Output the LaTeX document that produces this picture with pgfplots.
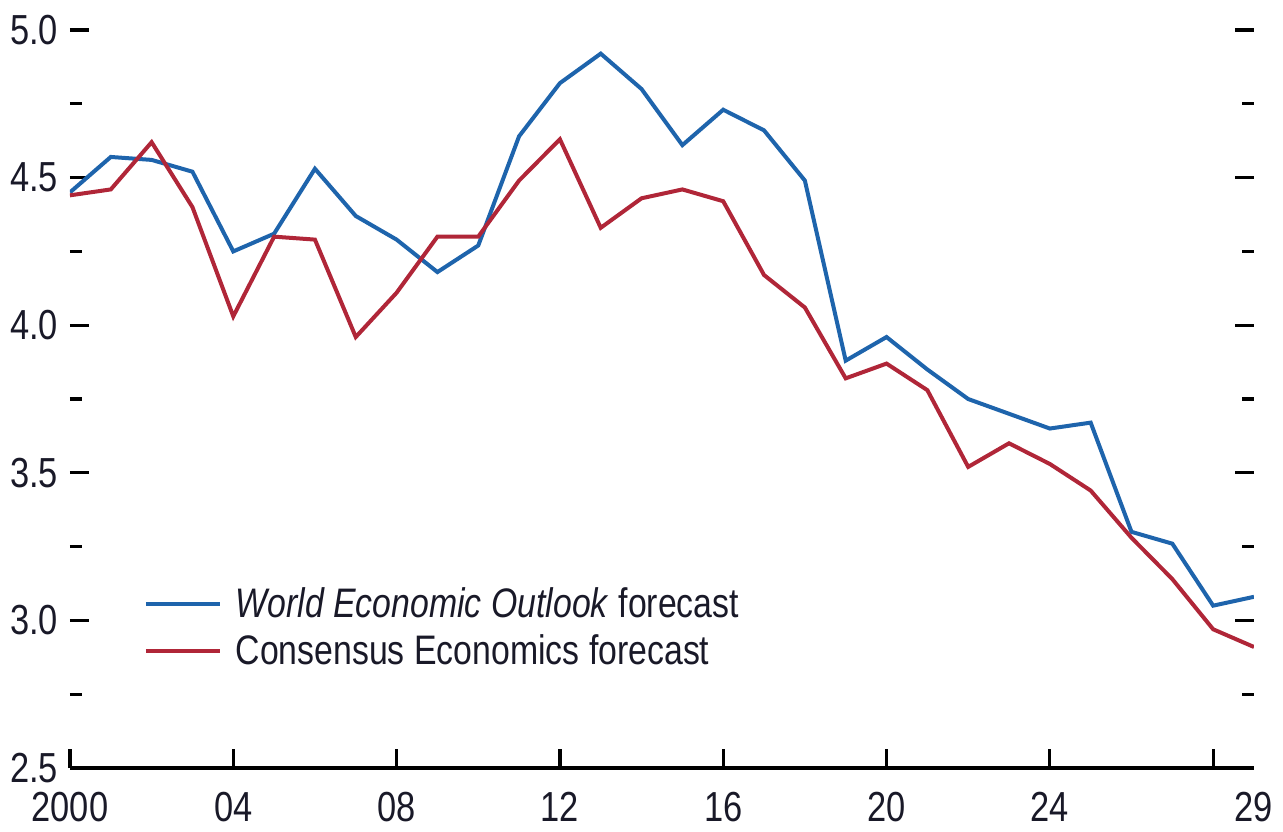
\documentclass[border=0pt]{standalone}
\usepackage{pgfplots}
\pgfplotsset{compat=1.18}
\usepackage{fontspec}
\setmainfont{Liberation Sans}[FakeStretch=0.82]
\definecolor{weo}{RGB}{30,100,172}
\definecolor{ce}{RGB}{176,38,56}
\definecolor{txt}{RGB}{25,25,40}
\begin{document}
\begin{tikzpicture}
\begin{axis}[
  scale only axis,
  width=473.6pt, height=295.2pt,
  xmin=2000, xmax=2029, ymin=2.5, ymax=5.0,
  axis x line=bottom,
  axis y line=box,
  separate axis lines,
  y axis line style={draw=none},
  x axis line style={-, line width=1.3pt},
  tick align=inside,
  xtick={2000,2004,2008,2012,2016,2020,2024,2028},
  xticklabels={2000,04,08,12,16,20,24,},
  extra x ticks={2029},
  extra x tick labels={29},
  extra x tick style={major tick length=0pt},
  ytick={2.5,3.0,3.5,4.0,4.5,5.0},
  minor ytick={2.75,3.25,3.75,4.25,4.75},
  yticklabel style={/pgf/number format/fixed, /pgf/number format/fixed zerofill,
    /pgf/number format/precision=1, xshift=-3.6pt},
  /pgf/number format/assume math mode=true,
  major tick length=7.6pt,
  minor tick length=4.8pt,
  every tick/.style={black, line width=1.3pt},
  tick label style={font=\fontsize{16.8}{18}\selectfont, text=txt, inner sep=1pt},
  xticklabel style={yshift=-8.4pt},
  legend style={draw=none, fill=none, at={(rel axis cs:0.062,0.252)}, anchor=north west,
    font=\fontsize{16.5}{18}\selectfont, text=txt, row sep=1.3pt,
    inner sep=0pt, nodes={inner xsep=5.5pt}},
  legend cell align=left,
  legend image code/.code={\draw[#1, line width=1.6pt] (0pt,0pt) -- (29.6pt,0pt);},
]
\addplot[weo, line width=1.6pt] coordinates {
(2000,4.45) (2001,4.57) (2002,4.56) (2003,4.52) (2004,4.25) (2005,4.31)
(2006,4.53) (2007,4.37) (2008,4.29) (2009,4.18) (2010,4.27) (2011,4.64)
(2012,4.82) (2013,4.92) (2014,4.80) (2015,4.61) (2016,4.73) (2017,4.66)
(2018,4.49) (2019,3.88) (2020,3.96) (2021,3.85) (2022,3.75) (2023,3.70)
(2024,3.65) (2025,3.67) (2026,3.30) (2027,3.26) (2028,3.05) (2029,3.08)
};
\addlegendentry{\textit{World Economic Outlook} forecast}
\addplot[ce, line width=1.6pt] coordinates {
(2000,4.44) (2001,4.46) (2002,4.62) (2003,4.40) (2004,4.03) (2005,4.30)
(2006,4.29) (2007,3.96) (2008,4.11) (2009,4.30) (2010,4.30) (2011,4.49)
(2012,4.63) (2013,4.33) (2014,4.43) (2015,4.46) (2016,4.42) (2017,4.17)
(2018,4.06) (2019,3.82) (2020,3.87) (2021,3.78) (2022,3.52) (2023,3.60)
(2024,3.53) (2025,3.44) (2026,3.28) (2027,3.14) (2028,2.97) (2029,2.91)
};
\addlegendentry{Consensus Economics forecast}
\coordinate (bl) at (rel axis cs:-0.0591,-0.0860);
\coordinate (tr) at (rel axis cs:1.0245,1.0407);
\end{axis}
\pgfresetboundingbox
\path[use as bounding box] (bl) rectangle (tr);
\end{tikzpicture}
\end{document}
